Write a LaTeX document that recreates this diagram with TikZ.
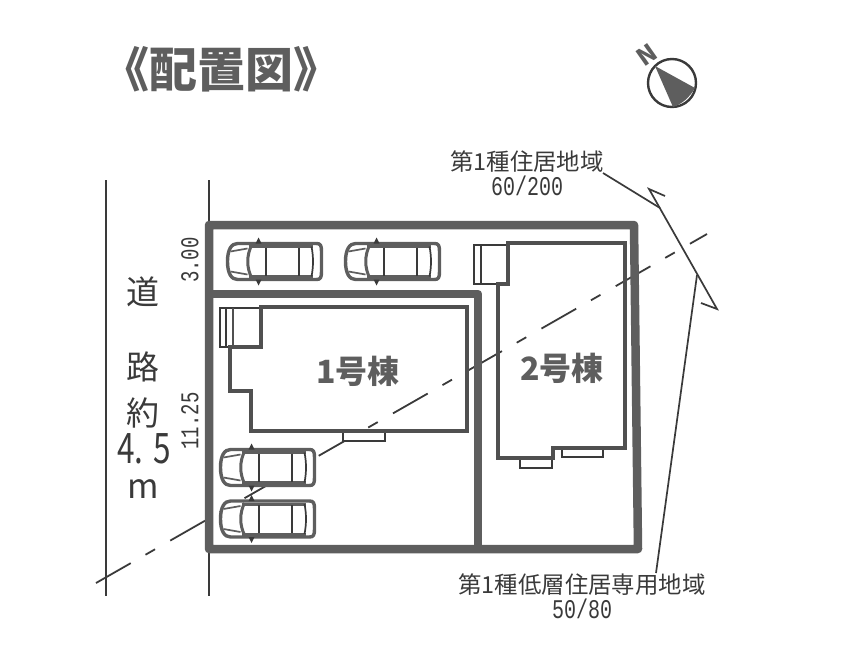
\documentclass[tikz,border=0pt]{standalone}
\usepackage{fontspec}
\setmainfont{Noto Sans CJK JP}
\setmonofont{Liberation Mono}
\usetikzlibrary{positioning}
\definecolor{wallgray}{HTML}{5E5E5E}
\definecolor{inkgray}{HTML}{3A3A3A}
\newcommand{\tallmono}[1]{\scalebox{1}[1.35]{\ttfamily #1}}
\tikzset {
    wall/.style = {
        draw = wallgray,
        line width = 8.5pt,
        line join = round
    },
    house/.style = {
        draw = wallgray!85!black,
        line width = 3.2pt
    },
    thin part/.style = {
        draw = inkgray,
        line width = 1.5pt,
        fill = white
    },
    road/.style = {
        draw = inkgray,
        line width = 2.8pt
    },
    leader/.style = {
        draw = inkgray,
        line width = 1.7pt
    },
    label/.style = {
        text = inkgray,
        inner sep = 0pt,
        font = {\fontsize{#1}{#1}\selectfont}
    },
    heavy/.style = {
        text = wallgray,
        inner sep = 0pt,
        font = {\fontsize{#1}{#1}\selectfont\bfseries}
    },
    car/.pic = {
        % Body, front on the left
        \draw [wallgray, line width=3.4pt, fill=white]
            (-37,-18) -- (42,-18) .. controls (46,-18) and (47,-16) .. (47,-10)
            -- (47,10) .. controls (47,16) and (46,18) .. (42,18) -- (-37,18)
            .. controls (-43,18) and (-47,12) .. (-47,0)
            .. controls (-47,-12) and (-43,-18) .. (-37,-18) -- cycle;
        % Side bands and mirrors
        \draw [wallgray, line width=3pt] (-26,-15) -- (38,-15);
        \draw [wallgray, line width=3pt] (-26,15) -- (38,15);
        \fill [inkgray] (-19,-18) -- (-16,-24) -- (-13,-18) -- cycle;
        \fill [inkgray] (-19,18) -- (-16,24) -- (-13,18) -- cycle;
        % Glass
        \draw [wallgray, line width=3pt] (-23,-16) .. controls (-28,-6) and (-28,6) .. (-23,16);
        \draw [inkgray, line width=1.7pt] (-8.5,-14) -- (-8.5,14);
        \draw [inkgray, line width=1.7pt] (24.5,-14) -- (24.5,14);
        \draw [inkgray, line width=1.7pt] (37,-15) .. controls (39,-5) and (39,5) .. (37,15);
        % Hood
        \draw [wallgray, line width=1.7pt] (-44,-10) -- (-27,-13);
        \draw [wallgray, line width=1.7pt] (-44,10) -- (-27,13);
    }
}
\begin{document}
\begin{tikzpicture}[x=1pt, y=-1pt]
        \useasboundingbox (0, 0) rectangle (861, 661);

        % Title and compass
        \node [heavy=48] at (221, 69) (title) {《配置図》};
        \draw [inkgray, line width=2.4pt] (672, 83) circle (24);
        \coordinate (apex)   at (655, 66);
        \coordinate (edgeA)  at (695, 88);
        \coordinate (edgeB)  at (673, 107);
        \fill [wallgray] (apex) -- (edgeA) .. controls (689, 98) and (682, 104) .. (edgeB) -- cycle;
        \node [heavy=24, rotate=35] at (647, 55) (north) {N};

        % Road
        \draw [road] (106, 180) -- (106, 596);
        \draw [road] (209, 180) -- (209, 596);
        \node [label=33] at (143, 292) (roadA) {道};
        \node [label=33] at (143, 367) (roadB) {路};
        \node [label=33] at (143, 413) (roadC) {約};
        \node [label=42] at (144, 449) (roadD) {\scalebox{0.75}[1]{4. 5}};
        \node [label=34] at (143, 489) (roadE) {m};

        % Height limit line, everything else lies on top of it
        \coordinate (limitA) at (96, 583);
        \coordinate (limitB) at (707, 234);
        \draw [inkgray, line width=1.8pt, dash pattern=on 40pt off 17pt on 11pt off 17.5pt] (limitA) -- (limitB);

        % Lot walls
        \draw [wall] (209, 225) -- (634, 225) -- (638, 549) -- (209, 549) -- cycle;
        \draw [wall] (209, 294) -- (478, 294) -- (478, 549);

        % House 1
        \draw [thin part] (220, 308) rectangle (261, 347);
        \draw [thin part] (226, 308) -- (226, 347);
        \draw [thin part] (343, 431) rectangle (385, 441);
        \draw [house] (230, 347) -- (261, 347) -- (261, 307) -- (467, 307) -- (467, 431)
                      -- (251, 431) -- (251, 391) -- (230, 391) -- cycle;
        \draw [house, line width=2.4pt] (233, 308) -- (233, 347);
        \node [heavy=32] at (358, 371) (houseA) {1号棟};

        % House 2
        \draw [thin part] (474, 245) rectangle (508, 284);
        \draw [thin part, line width=2.2pt] (481, 245) -- (481, 284);
        \draw [thin part] (520, 458) rectangle (552, 468);
        \draw [thin part] (562, 448) rectangle (603, 457);
        \draw [house] (498, 284) -- (508, 284) -- (508, 243) -- (625, 243) -- (625, 448)
                      -- (553, 448) -- (553, 458) -- (498, 458) -- cycle;
        \node [heavy=32] at (562, 368) (houseB) {2号棟};

        % Cars
        \path (274.5, 261.5) pic {car};
        \path (392.5, 261.5) pic {car};
        \path (267.5, 467.5) pic {car};
        \path (267.5, 519)   pic {car};

        % Widths along the road
        \node [label=19, rotate=90] at (190, 260) (widthA) {\tallmono{3.00}};
        \node [label=19, rotate=90] at (190, 421) (widthB) {\tallmono{11.25}};

        % Zoning labels and leaders
        \node [label=23.4] at (527, 162) (zoneA)  {第1種住居地域};
        \node [label=20, below=3pt of zoneA] (ratioA) {\tallmono{60/200}};
        \node [label=23.4] at (582, 585) (zoneB)  {第1種低層住居専用地域};
        \node [label=20, below=3pt of zoneB] (ratioB) {\tallmono{50/80}};

        \coordinate (kinkA) at (649, 189);
        \coordinate (kinkB) at (717, 309);
        \coordinate (tickA) at (665, 196);
        \coordinate (tickB) at (701, 303);
        \coordinate (hitA)  at (660, 208);
        \coordinate (hitB)  at (697, 275);
        \coordinate (footA) at (603, 173);
        \coordinate (footB) at (656, 573);
        \draw [leader] (tickA) -- (kinkA) -- (kinkB) -- (tickB);
        \draw [leader] (footA) -- (hitA);
        \draw [leader] (hitB)  -- (footB);
\end{tikzpicture}
\end{document}
